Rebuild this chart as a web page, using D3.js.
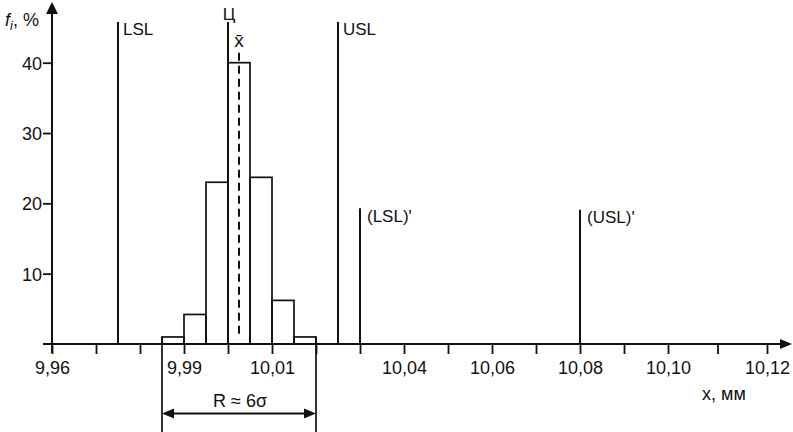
<!DOCTYPE html>
<html><head><meta charset="utf-8">
<script src="https://cdn.jsdelivr.net/npm/d3@7/dist/d3.min.js"></script>
<style>
html,body{margin:0;padding:0;background:#fff;}
svg text{font-family:"Liberation Sans",Arial,sans-serif;fill:#111;}
</style></head>
<body>
<svg id="chart" width="793" height="432"></svg>
<script>
// ---- data ----
const binStarts = [9.985, 9.99, 9.995, 10.00, 10.005, 10.01, 10.015];
const binWidth = 0.005;
const frequencies = [1.0, 4.2, 23.0, 40.0, 23.7, 6.2, 1.0];
const xTickValues = [9.96,9.97,9.98,9.99,10.00,10.01,10.02,10.03,10.04,10.05,10.06,10.07,10.08,10.09,10.10,10.11,10.12];
const xTickLabels = ["9,96","9,99","10,01","10,04","10,06","10,08","10,10","10,12"];
const yTickValues = [10, 20, 30, 40];
const refNames = ["LSL", "USL", "(LSL)'", "(USL)'"];
const refValues = [9.975, 10.025, 10.03, 10.08];
const refHeights = [45.8, 45.8, 19.3, 19.1];
const centerValue = 10.00, centerHeight = 45.8;
const meanValue = 10.0025, meanHeight = 41.4;
const rangeLo = 9.985, rangeHi = 10.02;

const svg = d3.select("#chart");
const ink = "#111";
const x = d3.scaleLinear().domain([9.96, 10.10, 10.12]).range([52, 668, 767]);
const y = d3.scaleLinear().domain([0, 40]).range([344, 62.7]);
const fmt = v => { const s = v.toFixed(2).replace(".", ","); return xTickLabels.includes(s) ? s : ""; };

// x axis
const gx = svg.append("g").attr("transform", `translate(0,${y(0)})`)
  .call(d3.axisBottom(x).tickValues(xTickValues).tickFormat(fmt).tickSize(10).tickSizeOuter(0));
gx.select(".domain").remove();
gx.selectAll(".tick line").attr("stroke", ink).attr("stroke-width", 1.8);
gx.selectAll(".tick text").attr("font-size", 18).attr("dy", 0).attr("y", 30).style("font-family", '"Liberation Sans",Arial,sans-serif');
svg.append("line").attr("x1", 43).attr("x2", 782).attr("y1", y(0)).attr("y2", y(0)).attr("stroke", ink).attr("stroke-width", 2);
svg.append("path").attr("d", `M792,${y(0)} L780,${y(0)-5} L780,${y(0)+5} Z`).attr("fill", ink);

// y axis
const gy = svg.append("g").attr("transform", `translate(${x(9.96)},0)`)
  .call(d3.axisLeft(y).tickValues(yTickValues).tickSize(9).tickSizeOuter(0).tickFormat(d3.format("d")));
gy.select(".domain").remove();
gy.selectAll(".tick line").attr("stroke", ink).attr("stroke-width", 1.8);
gy.selectAll(".tick text").attr("font-size", 18).attr("x", -10).attr("dy", "0.36em").style("font-family", '"Liberation Sans",Arial,sans-serif');
svg.append("line").attr("x1", x(9.96)).attr("x2", x(9.96)).attr("y1", 353).attr("y2", 12).attr("stroke", ink).attr("stroke-width", 2);
svg.append("path").attr("d", `M${x(9.96)},2 L${x(9.96)-6},14 L${x(9.96)+6},14 Z`).attr("fill", ink);

// y label
const yl = svg.append("text").attr("x", 5).attr("y", 26).attr("font-size", 18);
yl.append("tspan").attr("font-style", "italic").text("f");
yl.append("tspan").attr("font-style", "italic").attr("font-size", 13).attr("dy", 4).text("i");
yl.append("tspan").attr("dy", -4).text(", %");

// x label
svg.append("text").attr("x", 702).attr("y", 400).attr("font-size", 18).text("x, мм");

// bars
svg.append("g").selectAll("rect").data(binStarts).join("rect")
  .attr("x", d => x(d)).attr("width", d => x(d + binWidth) - x(d))
  .attr("y", (d, i) => y(frequencies[i])).attr("height", (d, i) => y(0) - y(frequencies[i]))
  .attr("fill", "none").attr("stroke", ink).attr("stroke-width", 1.7);

// reference lines
refValues.forEach((v, i) => {
  svg.append("line").attr("x1", x(v)).attr("x2", x(v)).attr("y1", y(refHeights[i])).attr("y2", y(0))
    .attr("stroke", ink).attr("stroke-width", 2);
  svg.append("text").attr("x", x(v) + (i < 2 ? 5 : 7)).attr("y", y(refHeights[i]) + 13.5)
    .attr("font-size", 17).text(refNames[i]);
});
// center line Ц
svg.append("line").attr("x1", x(centerValue)).attr("x2", x(centerValue)).attr("y1", y(centerHeight)).attr("y2", y(0))
  .attr("stroke", ink).attr("stroke-width", 2);
svg.append("text").attr("x", x(centerValue) + 1).attr("y", 20).attr("text-anchor", "middle").attr("font-size", 17).text("Ц");
// mean dashed
svg.append("line").attr("x1", x(meanValue)).attr("x2", x(meanValue)).attr("y1", y(meanHeight)).attr("y2", y(0) - 6)
  .attr("stroke", ink).attr("stroke-width", 2).attr("stroke-dasharray", "8,5");
svg.append("text").attr("x", x(meanValue)).attr("y", 47).attr("text-anchor", "middle").attr("font-size", 19).text("x̄");

// range R
[rangeLo, rangeHi].forEach((v, i) => {
  svg.append("line").attr("x1", x(v)).attr("x2", x(v)).attr("y1", y(frequencies[i === 0 ? 0 : frequencies.length - 1])).attr("y2", 432)
    .attr("stroke", ink).attr("stroke-width", 1.7);
});
const ay = 413.5;
svg.append("line").attr("x1", x(rangeLo) + 8).attr("x2", x(rangeHi) - 8).attr("y1", ay).attr("y2", ay).attr("stroke", ink).attr("stroke-width", 2);
svg.append("path").attr("d", `M${x(rangeLo)},${ay} L${x(rangeLo)+12},${ay-5} L${x(rangeLo)+12},${ay+5} Z`).attr("fill", ink);
svg.append("path").attr("d", `M${x(rangeHi)},${ay} L${x(rangeHi)-12},${ay-5} L${x(rangeHi)-12},${ay+5} Z`).attr("fill", ink);
svg.append("text").attr("x", (x(rangeLo) + x(rangeHi)) / 2 + 1).attr("y", 407).attr("text-anchor", "middle").attr("font-size", 18).text("R ≈ 6σ");
</script>
</body></html>
